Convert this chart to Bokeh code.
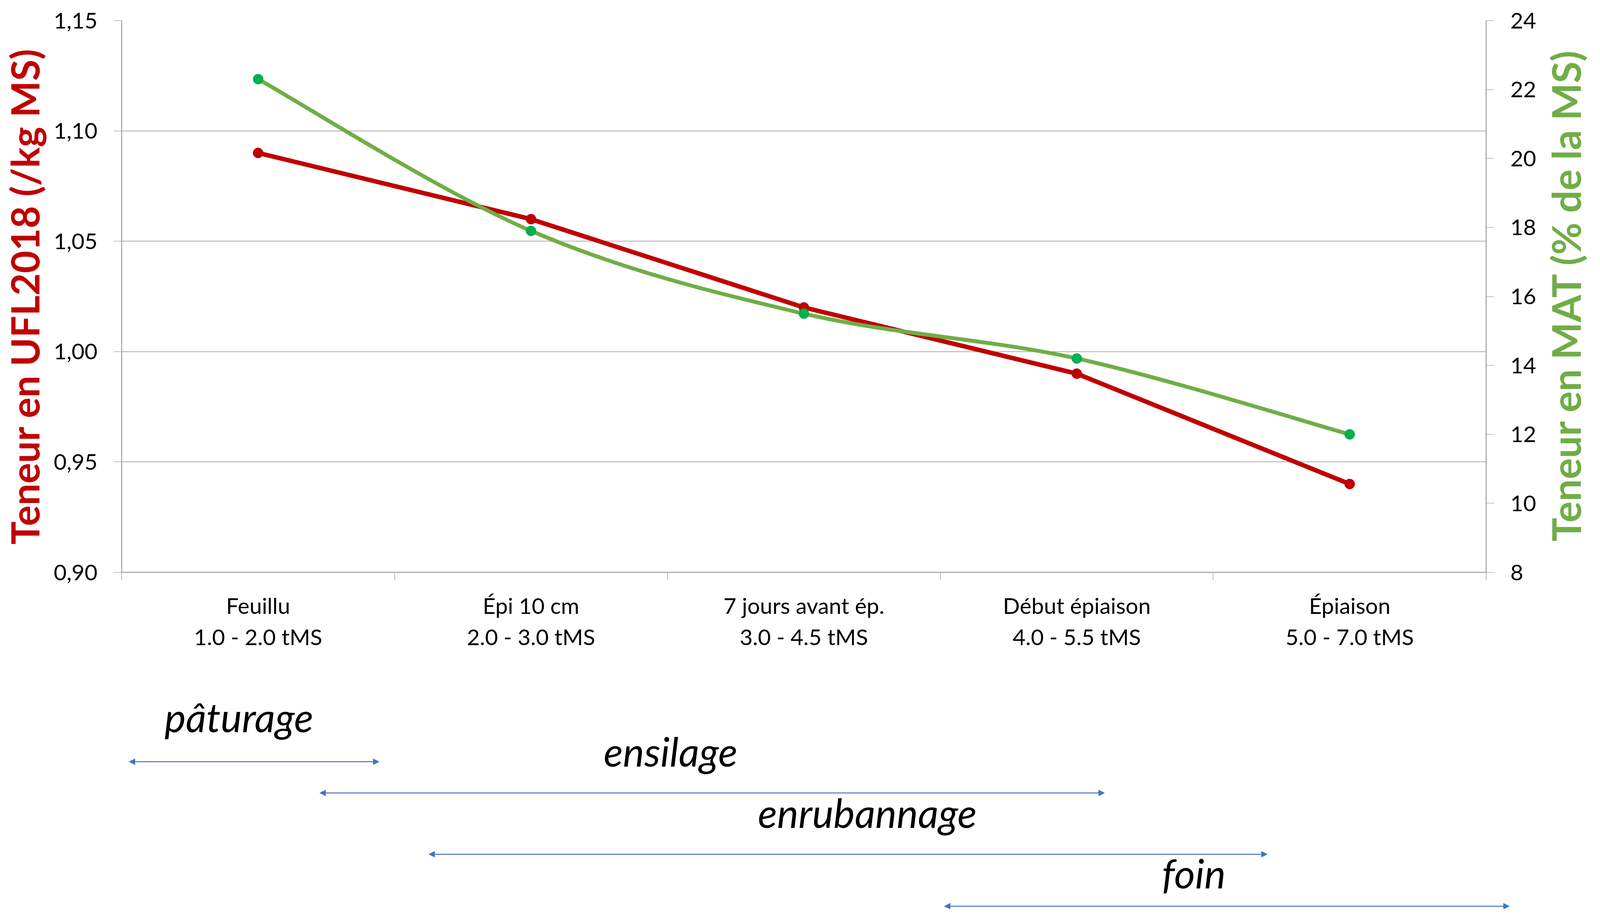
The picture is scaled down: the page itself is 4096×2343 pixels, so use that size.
import math
from bokeh.plotting import figure
from bokeh.models import (Range1d, LinearAxis, FixedTicker, ColumnDataSource,
                          Arrow, NormalHead)
from bokeh.layouts import row
from bokeh.core.properties import value
from bokeh.embed import file_html
from bokeh.resources import INLINE

# ---------------- data ----------------
stages = ["Feuillu", "Épi 10 cm", "7 jours avant ép.", "Début épiaison", "Épiaison"]
yields = ["1.0 - 2.0 tMS", "2.0 - 3.0 tMS", "3.0 - 4.5 tMS", "4.0 - 5.5 tMS", "5.0 - 7.0 tMS"]
ufl = [1.09, 1.06, 1.02, 0.99, 0.94]
mat = [22.3, 17.9, 15.5, 14.2, 12.0]
ufl_ticks = [0.90, 0.95, 1.00, 1.05, 1.10, 1.15]
ufl_tick_labels = ["0,90", "0,95", "1,00", "1,05", "1,10", "1,15"]
mat_ticks = [8, 10, 12, 14, 16, 18, 20, 22, 24]

usages = ["pâturage", "ensilage", "enrubannage", "foin"]
usage_start = [0.033, 0.731, 1.130, 3.017]   # in stage units (0 = left edge)
usage_end = [0.948, 3.603, 4.199, 5.085]

# ---------------- layout constants ----------------
W = 4080
W_MAIN = 3940
H_TOP = 1700
H_BOT = 627
FRAME_L, FRAME_R, FRAME_T, FRAME_B = 307, 3804, 52, 1465
label_x = [0.435, 2.015, 2.735, 3.930]
label_y = [1834, 1922, 2079, 2234]      # centre line of the italic words
arrow_y = [1950, 2030, 2187, 2320]
RIGHT_TITLE_X = 4007 - W_MAIN           # centre of the right title inside its strip
RIGHT_TITLE_Y = 755                     # canvas y (from top) of its centre

RED = "#C00000"
GREEN = "#70AD47"
GREEN_MK = "#00B050"
GRID = "#ABABAB"
AXIS = "#A0A0A0"
BLUE = "#4472C4"
FONT = "Lato"

n = len(stages)
xs = [i + 0.5 for i in range(n)]
unit = (FRAME_R - FRAME_L) / n
y_lo, y_hi = ufl_ticks[0], ufl_ticks[-1]

# ---------------- main chart ----------------
p = figure(width=W_MAIN, height=H_TOP, output_backend="svg", toolbar_location=None,
           x_range=Range1d(0, n), y_range=Range1d(y_lo, y_hi),
           min_border_left=FRAME_L, min_border_right=W_MAIN - FRAME_R,
           min_border_top=FRAME_T, min_border_bottom=H_TOP - FRAME_B,
           x_axis_location=None, y_axis_location=None)
p.outline_line_color = None
p.background_fill_color = "white"
p.border_fill_color = "white"
p.extra_y_ranges = {"mat": Range1d(mat_ticks[0], mat_ticks[-1])}

# bottom axis
xax = LinearAxis(ticker=FixedTicker(ticks=xs, minor_ticks=list(range(n + 1))))
xax.major_label_overrides = {x: f"{s}\n{y}" for x, s, y in zip(xs, stages, yields)}
xax.major_tick_line_color = None
xax.minor_tick_line_color = AXIS
xax.minor_tick_line_width = 1.5
xax.minor_tick_out = 20
xax.minor_tick_in = 0
xax.axis_line_color = AXIS
xax.axis_line_width = 2.5
xax.major_label_text_font = FONT
xax.major_label_text_font_size = "57px"
xax.major_label_text_color = "black"
xax.major_label_text_line_height = 1.18
xax.major_label_standoff = 30
p.add_layout(xax, "below")

# left axis
lax = LinearAxis(ticker=FixedTicker(ticks=ufl_ticks))
lax.major_label_overrides = {t: l for t, l in zip(ufl_ticks, ufl_tick_labels)}
lax.major_tick_line_color = GRID
lax.major_tick_line_width = 1.5
lax.major_tick_out = 20
lax.major_tick_in = 0
lax.minor_tick_line_color = None
lax.axis_line_color = AXIS
lax.axis_line_width = 2.5
lax.major_label_text_font = FONT
lax.major_label_text_font_size = "57px"
lax.major_label_text_color = "black"
lax.major_label_standoff = 42
lax.axis_label = "Teneur en UFL2018 (/kg MS)"
lax.axis_label_text_font = FONT
lax.axis_label_text_font_style = "bold"
lax.axis_label_text_font_size = "99px"
lax.axis_label_text_color = RED
lax.axis_label_standoff = 12
p.add_layout(lax, "left")

# right axis
rax = LinearAxis(y_range_name="mat", ticker=FixedTicker(ticks=mat_ticks))
rax.major_tick_line_color = GRID
rax.major_tick_line_width = 1.5
rax.major_tick_out = 20
rax.major_tick_in = 0
rax.minor_tick_line_color = None
rax.axis_line_color = AXIS
rax.axis_line_width = 2.5
rax.major_label_text_font = FONT
rax.major_label_text_font_size = "57px"
rax.major_label_text_color = "black"
rax.major_label_standoff = 42
p.add_layout(rax, "right")

p.xgrid.visible = False
p.ygrid.ticker = FixedTicker(ticks=ufl_ticks)
p.ygrid.grid_line_color = GRID
p.ygrid.grid_line_width = 2

# UFL series (straight)
p.line(xs, ufl, line_color=RED, line_width=11.5, line_join="round")
p.scatter(xs, ufl, size=26, fill_color=RED, line_color=RED)

# MAT series (smoothed, Excel-like Bezier)
pts = list(zip(xs, mat))
x0, y0, x1, y1, cx0, cy0, cx1, cy1 = [], [], [], [], [], [], [], []
for i in range(n - 1):
    pm = pts[max(i - 1, 0)]
    pa = pts[i]
    pb = pts[i + 1]
    pn = pts[min(i + 2, n - 1)]
    x0.append(pa[0]); y0.append(pa[1]); x1.append(pb[0]); y1.append(pb[1])
    cx0.append(pa[0] + (pb[0] - pm[0]) / 6.0)
    cy0.append(pa[1] + (pb[1] - pm[1]) / 6.0)
    cx1.append(pb[0] - (pn[0] - pa[0]) / 6.0)
    cy1.append(pb[1] - (pn[1] - pa[1]) / 6.0)
p.bezier(x0=x0, y0=y0, x1=x1, y1=y1, cx0=cx0, cy0=cy0, cx1=cx1, cy1=cy1,
         y_range_name="mat", line_color=GREEN, line_width=10, line_cap="round")
p.scatter(xs, mat, y_range_name="mat", size=26, fill_color=GREEN_MK, line_color=GREEN_MK)

# ---------------- right title strip (frame aligned with the chart frame) ----------------
t = figure(width=W - W_MAIN, height=H_TOP, output_backend="svg", toolbar_location=None,
           x_range=Range1d(0, W - W_MAIN), y_range=Range1d(FRAME_B, FRAME_T),
           min_border_left=0, min_border_right=0,
           min_border_top=FRAME_T, min_border_bottom=H_TOP - FRAME_B,
           x_axis_location=None, y_axis_location=None)
t.outline_line_color = None
t.xgrid.visible = False
t.ygrid.visible = False
t.background_fill_color = "white"
t.border_fill_color = "white"
t.text(x=[RIGHT_TITLE_X], y=[RIGHT_TITLE_Y], text=["Teneur en MAT (% de la MS)"],
       angle=math.pi / 2, text_font=value(FONT), text_font_style="bold",
       text_font_size="101px", text_color=GREEN,
       text_align="center", text_baseline="middle")

# ---------------- bottom annotation strip (full-width frame) ----------------
b = figure(width=W, height=H_BOT, output_backend="svg", toolbar_location=None,
           x_range=Range1d(-FRAME_L / unit, (W - FRAME_L) / unit),
           y_range=Range1d(H_TOP + H_BOT, H_TOP),
           min_border=0, x_axis_location=None, y_axis_location=None)
b.outline_line_color = None
b.xgrid.visible = False
b.ygrid.visible = False
b.background_fill_color = "white"
b.border_fill_color = "white"

b.text(x=label_x, y=label_y, text=usages, text_font=value(FONT),
       text_font_style="italic", text_font_size="103px", text_color="black",
       text_align="center", text_baseline="middle")

asrc = ColumnDataSource(dict(xs=usage_start, xe=usage_end, y=arrow_y))
b.add_layout(Arrow(x_start="xs", y_start="y", x_end="xe", y_end="y", source=asrc,
                   line_color=BLUE, line_width=2.5,
                   start=NormalHead(size=15, fill_color=BLUE, line_color=BLUE),
                   end=NormalHead(size=15, fill_color=BLUE, line_color=BLUE)))

open("out.html", "w").write(file_html([row(p, t, spacing=0), b], INLINE))
